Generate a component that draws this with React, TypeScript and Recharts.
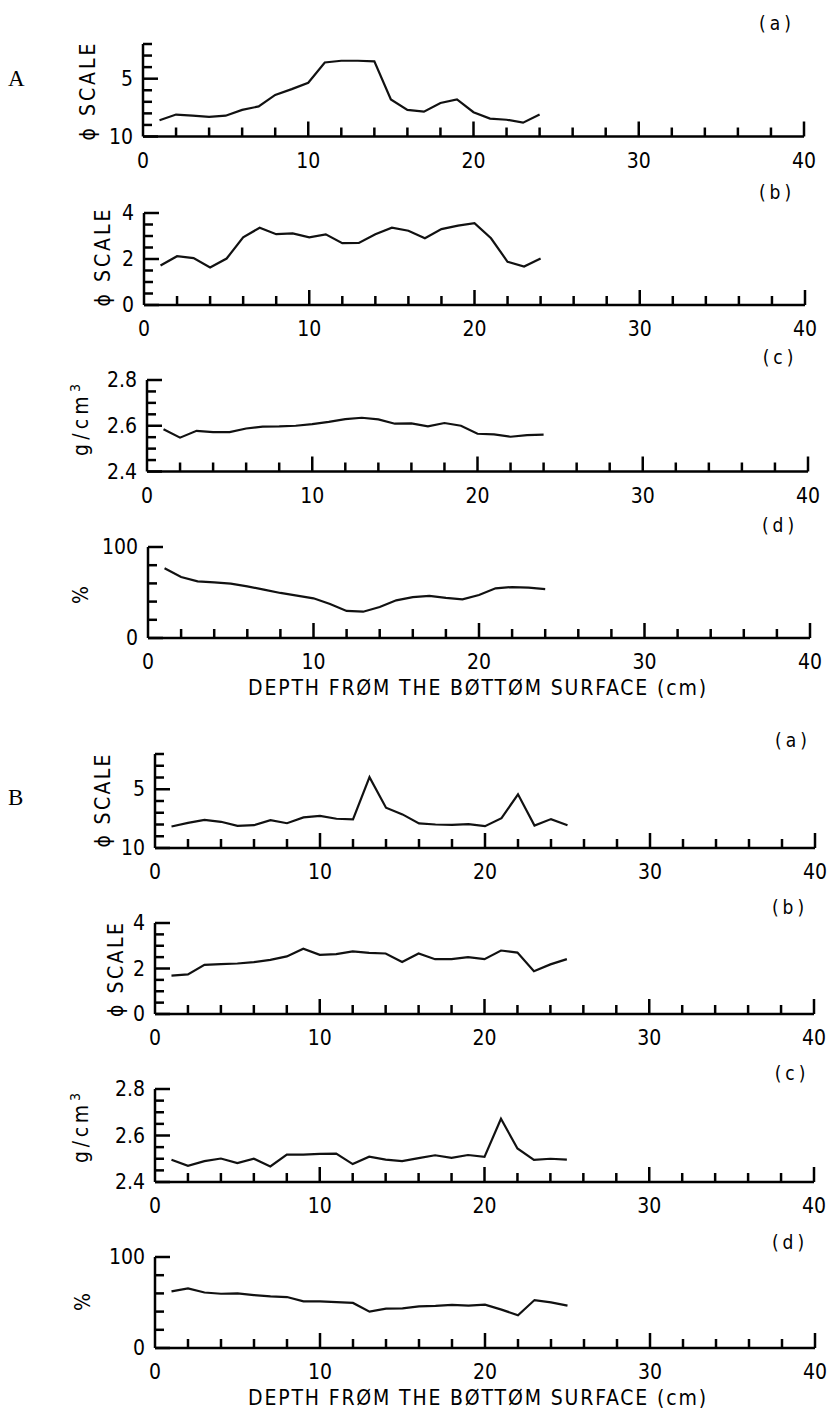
import React from "react";
import { LineChart, Line, XAxis, YAxis } from "recharts";

// depth (cm) of each sample
const DEPTH_A = [1, 2, 3, 4, 5, 6, 7, 8, 9, 10, 11, 12, 13, 14, 15, 16, 17, 18, 19, 20, 21, 22, 23, 24];
const DEPTH_B = [1, 2, 3, 4, 5, 6, 7, 8, 9, 10, 11, 12, 13, 14, 15, 16, 17, 18, 19, 20, 21, 22, 23, 24, 25];

// core A
const A_MEAN = [8.6, 8.1, 8.2, 8.3, 8.2, 7.7, 7.4, 6.4, 5.9, 5.35, 3.6, 3.45, 3.45, 3.5, 6.8, 7.7, 7.85, 7.1, 6.8, 7.9, 8.45, 8.55, 8.8, 8.1];
const A_SORTING = [1.72, 2.12, 2.04, 1.63, 2.02, 2.94, 3.36, 3.08, 3.11, 2.94, 3.07, 2.69, 2.7, 3.08, 3.36, 3.23, 2.9, 3.3, 3.45, 3.56, 2.9, 1.88, 1.67, 2.02];
const A_DENSITY = [2.585, 2.548, 2.578, 2.572, 2.572, 2.588, 2.596, 2.597, 2.6, 2.607, 2.617, 2.629, 2.635, 2.628, 2.609, 2.61, 2.597, 2.612, 2.6, 2.565, 2.562, 2.552, 2.559, 2.561];
const A_PERCENT = [76.6, 67, 62.3, 61.2, 59.7, 56.8, 53.1, 49.5, 46.5, 43.6, 37.4, 29.7, 28.9, 34, 41.4, 45, 46.2, 44, 42.5, 47.3, 54.6, 56, 55.3, 53.8];

// core B
const B_MEAN = [8.17, 7.86, 7.6, 7.77, 8.11, 8.06, 7.63, 7.89, 7.4, 7.26, 7.51, 7.57, 3.97, 6.57, 7.14, 7.91, 8.0, 8.03, 7.97, 8.14, 7.46, 5.43, 8.09, 7.54, 8.06];
const B_SORTING = [1.69, 1.74, 2.16, 2.19, 2.22, 2.28, 2.38, 2.53, 2.87, 2.6, 2.63, 2.75, 2.69, 2.66, 2.29, 2.66, 2.41, 2.41, 2.5, 2.41, 2.79, 2.7, 1.88, 2.18, 2.41];
const B_DENSITY = [2.496, 2.47, 2.49, 2.501, 2.481, 2.5, 2.467, 2.518, 2.518, 2.521, 2.522, 2.477, 2.509, 2.496, 2.49, 2.503, 2.515, 2.504, 2.516, 2.508, 2.672, 2.544, 2.495, 2.5, 2.496];
const B_PERCENT = [62.2, 65.5, 61, 59.6, 60, 58.2, 56.7, 56, 51.3, 51.3, 50.5, 49.5, 40, 43.3, 43.6, 45.8, 46.2, 47.3, 46.5, 47.6, 42.2, 36, 52.7, 50.2, 46.5];

// ticks
const DEPTH_TICKS = [0, 2, 4, 6, 8, 10, 12, 14, 16, 18, 20, 22, 24, 26, 28, 30, 32, 34, 36, 38, 40];
const DEPTH_LABELS = [0, 10, 20, 30, 40];
const DEPTH_MAJOR = [10, 20, 30, 40];
const PHI_TICKS = [2, 3, 4, 5, 6, 7, 8, 9, 10];
const PHI_LABELS = [5, 10];
const SORT_TICKS = [0, 0.5, 1, 1.5, 2, 2.5, 3, 3.5, 4];
const SORT_LABELS = [0, 2, 4];
const DENSITY_TICKS = [2.4, 2.45, 2.5, 2.55, 2.6, 2.65, 2.7, 2.75, 2.8];
const DENSITY_LABELS = [2.4, 2.6, 2.8];
const PCT_TICKS = [0, 20, 40, 60, 80, 100];
const PCT_LABELS = [0, 100];

const FONT = '"DejaVu Sans Condensed", "Liberation Sans Narrow", "DejaVu Sans", sans-serif';
const W = 831;
const PAD_T = 12;
const PAD_B = 40;

const XTick = (props: any) => {
  const { x, y, payload } = props;
  const v = payload.value;
  const len = v === 0 ? 0 : DEPTH_MAJOR.includes(v) ? 15 : 9;
  return (
    <g>
      {len > 0 && <line x1={x} x2={x} y1={y} y2={y - len} stroke="#000" strokeWidth={2.5} />}
      {DEPTH_LABELS.includes(v) && (
        <text x={x} y={y + 31} textAnchor="middle" fontFamily={FONT} fontSize={21} fill="#000">
          {v}
        </text>
      )}
    </g>
  );
};

const makeYTick = (labels: number[], decimals: number) => (props: any) => {
  const { x, y, payload } = props;
  const v = payload.value;
  const isLabel = labels.some((l) => Math.abs(l - v) < 1e-6);
  const len = isLabel ? 15 : 9;
  return (
    <g>
      <line x1={x} x2={x + len} y1={y} y2={y} stroke="#000" strokeWidth={2.5} />
      {isLabel && (
        <text x={x - 10} y={y + 7} textAnchor="end" fontFamily={FONT} fontSize={21} fill="#000">
          {v.toFixed(decimals)}
        </text>
      )}
    </g>
  );
};

type PanelProps = {
  depth: number[];
  values: number[];
  yDomain: [number, number];
  yTicks: number[];
  yLabels: number[];
  decimals: number;
  reversed?: boolean;
  left: number;
  right: number;
  top: number;
  bottom: number;
};

const Panel = (p: PanelProps) => {
  const data = p.depth.map((d, i) => ({ depth: d, value: p.values[i] }));
  const h = p.bottom - p.top + PAD_T + PAD_B;
  return (
    <div style={{ position: "absolute", left: 0, top: p.top - PAD_T }}>
      <LineChart width={W} height={h} data={data} margin={{ top: PAD_T, right: W - p.right, bottom: 0, left: 0 }}>
        <XAxis
          dataKey="depth"
          type="number"
          domain={[0, 40]}
          ticks={DEPTH_TICKS}
          interval={0}
          height={PAD_B}
          tickSize={0}
          tickMargin={0}
          tickLine={false}
          axisLine={{ stroke: "#000", strokeWidth: 2.5 }}
          tick={XTick}
        />
        <YAxis
          type="number"
          domain={p.yDomain}
          reversed={p.reversed}
          ticks={p.yTicks}
          interval={0}
          width={p.left}
          tickSize={0}
          tickMargin={0}
          tickLine={false}
          axisLine={{ stroke: "#000", strokeWidth: 2.5 }}
          tick={makeYTick(p.yLabels, p.decimals)}
        />
        <Line dataKey="value" type="linear" stroke="#111" strokeWidth={2.2} dot={false} isAnimationActive={false} />
      </LineChart>
    </div>
  );
};

const VLabel = ({ x, y, len, children }: { x: number; y: number; len?: number; children: React.ReactNode }) => (
  <text
    transform={`translate(${x},${y}) rotate(-90)`}
    textAnchor="middle"
    fontFamily={FONT}
    fontSize={21}
    fill="#000"
    textLength={len}
    lengthAdjust={len ? "spacing" : undefined}
  >
    {children}
  </text>
);

const Tag = ({ x, y, t }: { x: number; y: number; t: string }) => (
  <text x={x} y={y + 7} textAnchor="middle" fontFamily={FONT} fontSize={19} letterSpacing={4} fill="#000">
    {`(${t})`}
  </text>
);

const Title = ({ y }: { y: number }) => (
  <text x={477} y={y} textAnchor="middle" fontFamily={FONT} fontSize={21} fill="#000" textLength={458} lengthAdjust="spacing">
    DEPTH FRØM THE BØTTØM SURFACE (cm)
  </text>
);

const Density = () => (
  <>
    g/cm
    <tspan dy={-8} fontSize={14}>3</tspan>
  </>
);

export default function App() {
  return (
    <div style={{ position: "absolute", left: 0, top: 0, width: W, height: 1411, background: "#fff" }}>
      <Panel depth={DEPTH_A} values={A_MEAN} yDomain={[2, 10]} yTicks={PHI_TICKS} yLabels={PHI_LABELS} decimals={0} reversed left={143} right={804} top={44} bottom={136.5} />
      <Panel depth={DEPTH_A} values={A_SORTING} yDomain={[0, 4]} yTicks={SORT_TICKS} yLabels={SORT_LABELS} decimals={0} left={144} right={805} top={213} bottom={305} />
      <Panel depth={DEPTH_A} values={A_DENSITY} yDomain={[2.4, 2.8]} yTicks={DENSITY_TICKS} yLabels={DENSITY_LABELS} decimals={1} left={147} right={808} top={380} bottom={471.5} />
      <Panel depth={DEPTH_A} values={A_PERCENT} yDomain={[0, 100]} yTicks={PCT_TICKS} yLabels={PCT_LABELS} decimals={0} left={148} right={810} top={547} bottom={638} />

      <Panel depth={DEPTH_B} values={B_MEAN} yDomain={[2, 10]} yTicks={PHI_TICKS} yLabels={PHI_LABELS} decimals={0} reversed left={155} right={815} top={754} bottom={848} />
      <Panel depth={DEPTH_B} values={B_SORTING} yDomain={[0, 4]} yTicks={SORT_TICKS} yLabels={SORT_LABELS} decimals={0} left={155} right={814} top={923} bottom={1014} />
      <Panel depth={DEPTH_B} values={B_DENSITY} yDomain={[2.4, 2.8]} yTicks={DENSITY_TICKS} yLabels={DENSITY_LABELS} decimals={1} left={155} right={814} top={1089} bottom={1182} />
      <Panel depth={DEPTH_B} values={B_PERCENT} yDomain={[0, 100]} yTicks={PCT_TICKS} yLabels={PCT_LABELS} decimals={0} left={155} right={815} top={1257} bottom={1348} />

      <svg width={W} height={1411} style={{ position: "absolute", left: 0, top: 0, pointerEvents: "none" }}>
        <text x={8} y={86} fontFamily='"Liberation Serif", serif' fontSize={23} fill="#000">A</text>
        <text x={8} y={805} fontFamily='"Liberation Serif", serif' fontSize={23} fill="#000">B</text>

        <Tag x={777} y={23} t="a" />
        <Tag x={777} y={192} t="b" />
        <Tag x={780} y={357} t="c" />
        <Tag x={780} y={525} t="d" />
        <Tag x={793} y={740} t="a" />
        <Tag x={790} y={907} t="b" />
        <Tag x={792} y={1073} t="c" />
        <Tag x={790} y={1242} t="d" />

        <VLabel x={95} y={92} len={97}>ϕ SCALE</VLabel>
        <VLabel x={110} y={258} len={97}>ϕ SCALE</VLabel>
        <VLabel x={88} y={420} len={72}><Density /></VLabel>
        <VLabel x={88} y={595}>%</VLabel>
        <VLabel x={110} y={801} len={93}>ϕ SCALE</VLabel>
        <VLabel x={123} y={970} len={94}>ϕ SCALE</VLabel>
        <VLabel x={88} y={1128} len={70}><Density /></VLabel>
        <VLabel x={90} y={1302}>%</VLabel>

        <Title y={695} />
        <Title y={1405} />
      </svg>
    </div>
  );
}
